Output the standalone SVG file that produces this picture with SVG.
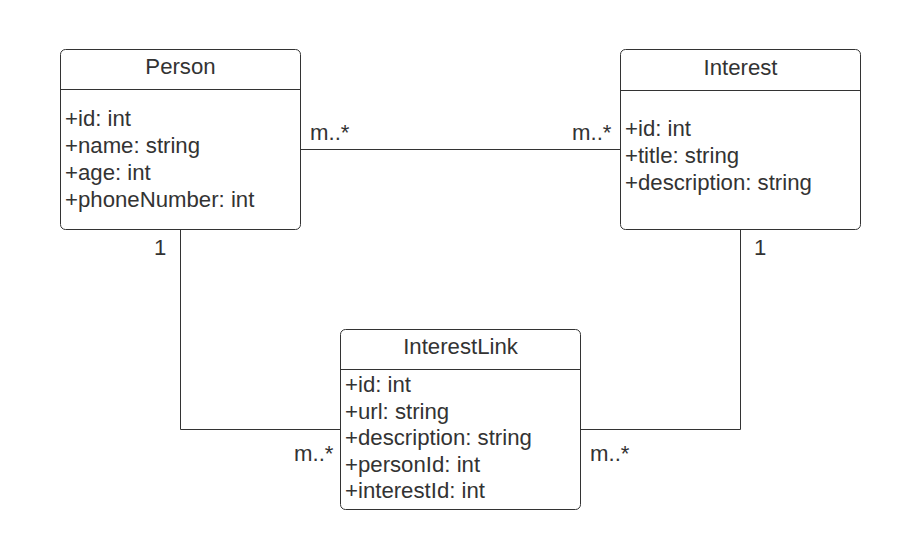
<svg xmlns="http://www.w3.org/2000/svg" width="920" height="549" viewBox="0 0 920 549">
<style>
.box{fill:#ffffff;stroke:#333333;stroke-width:1}
.div{stroke:#333333;stroke-width:1}
.conn{fill:none;stroke:#333333;stroke-width:1}
text{font-family:"Liberation Sans",Arial,sans-serif;font-size:22.2px;fill:#333333}
.title{text-anchor:middle}
</style>
<rect width="920" height="549" fill="#ffffff"/>
<g id="connectors">
<line class="conn" x1="300" y1="149.5" x2="620" y2="149.5"/>
<polyline class="conn" points="180.5,229 180.5,429.5 340,429.5"/>
<polyline class="conn" points="580,429.5 740.5,429.5 740.5,229"/>
<text x="310" y="140">m..*</text>
<text x="572" y="140">m..*</text>
<text x="154" y="255">1</text>
<text x="754" y="255">1</text>
<text x="294" y="461">m..*</text>
<text x="590" y="461">m..*</text>
</g>
<g id="person">
<rect class="box" x="60.5" y="49.5" width="240" height="180" rx="5"/>
<line class="div" x1="60.5" y1="89.5" x2="300.5" y2="89.5"/>
<text class="title" x="180.5" y="74">Person</text>
<text x="65" y="126">+id: int</text>
<text x="65" y="153">+name: string</text>
<text x="65" y="180">+age: int</text>
<text x="65" y="207">+phoneNumber: int</text>
</g>
<g id="interest">
<rect class="box" x="620.5" y="49.5" width="240" height="180" rx="5"/>
<line class="div" x1="620.5" y1="90.5" x2="860.5" y2="90.5"/>
<text class="title" x="740.5" y="75">Interest</text>
<text x="625" y="136">+id: int</text>
<text x="625" y="163">+title: string</text>
<text x="625" y="190">+description: string</text>
</g>
<g id="interestlink">
<rect class="box" x="340.5" y="329.5" width="240" height="180" rx="5"/>
<line class="div" x1="340.5" y1="369.5" x2="580.5" y2="369.5"/>
<text class="title" x="460.5" y="354">InterestLink</text>
<text x="345" y="392">+id: int</text>
<text x="345" y="419">+url: string</text>
<text x="345" y="445">+description: string</text>
<text x="345" y="472">+personId: int</text>
<text x="345" y="498">+interestId: int</text>
</g>
</svg>
